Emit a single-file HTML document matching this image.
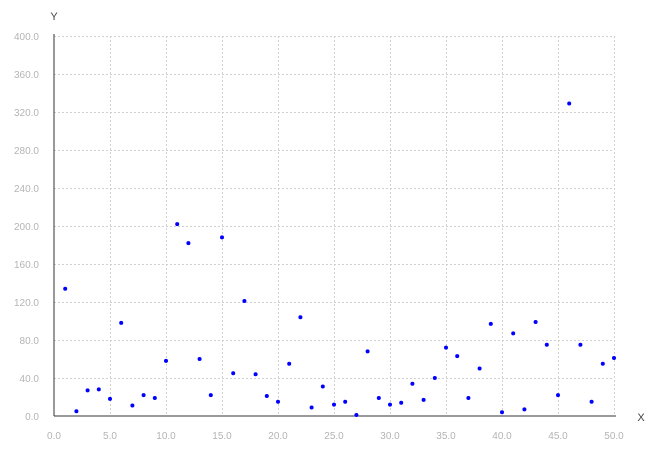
<!DOCTYPE html>
<html><head><meta charset="utf-8"><style>
body{margin:0;background:#fff;font-family:"Liberation Sans",sans-serif}
svg{display:block}
</style></head><body>
<svg id="chart" width="655" height="451"></svg>
<script>
const xValues=[1,2,3,4,5,6,7,8,9,10,11,12,13,14,15,16,17,18,19,20,21,22,23,24,25,26,27,28,29,30,31,32,33,34,35,36,37,38,39,40,41,42,43,44,45,46,47,48,49,50];
const yValues=[134,5,27,28,18,98,11,22,19,58,202,182,60,22,188,45,121,44,21,15,55,104,9,31,12,15,1,68,19,12,14,34,17,40,72,63,19,50,97,4,87,7,99,75,22,329,75,15,55,61];
const xTicks=[0,5,10,15,20,25,30,35,40,45,50];
const yTicks=[0,40,80,120,160,200,240,280,320,360,400];
const NS="http://www.w3.org/2000/svg";
const svg=document.getElementById('chart');
const X0=54,X1=614,Y0=416,Y1=36;
const sx=v=>X0+(v-0)/(50-0)*(X1-X0);
const sy=v=>Y0-(v-0)/(400-0)*(Y0-Y1);
function mk(t,a){const e=document.createElementNS(NS,t);for(const k in a)e.setAttribute(k,a[k]);svg.appendChild(e);return e;}
xTicks.forEach(t=>{
 if(t>0){const g=mk('line',{x1:sx(t)+0.5,x2:sx(t)+0.5,y1:Y1,y2:Y0,stroke:'#d0d0d0','stroke-dasharray':'2,2'});
 
 }
 const l=mk('text',{x:sx(t),y:Y0+23,'text-anchor':'middle','font-size':'10',fill:'#b4b4b4'});
 l.textContent=t.toFixed(1);
 
 
});
yTicks.forEach(t=>{
 if(t>0){const g=mk('line',{x1:X0,x2:X1,y1:sy(t)+0.5,y2:sy(t)+0.5,stroke:'#d0d0d0','stroke-dasharray':'2,2'});
 
 }
 const l=mk('text',{x:X0-15,y:sy(t)+4,'text-anchor':'end','font-size':'10',fill:'#b4b4b4'});
 l.textContent=t.toFixed(1);
 
 
});
const ya=mk('line',{x1:X0,x2:X0,y1:Y1-2,y2:Y0,stroke:'#333'});


const xa=mk('line',{x1:X0,x2:X1+2,y1:Y0,y2:Y0,stroke:'#333'});


const yt=mk('text',{x:54,y:20,'text-anchor':'middle','font-size':'11',fill:'#444'});
yt.textContent='Y';


const xt=mk('text',{x:641,y:421,'text-anchor':'middle','font-size':'11',fill:'#444'});
xt.textContent='X';


xValues.forEach((x,i)=>{
 const c=mk('circle',{cx:sx(x),cy:sy(yValues[i]),r:2,fill:'#0000ff'});
 
 
});
</script>
</body></html>
